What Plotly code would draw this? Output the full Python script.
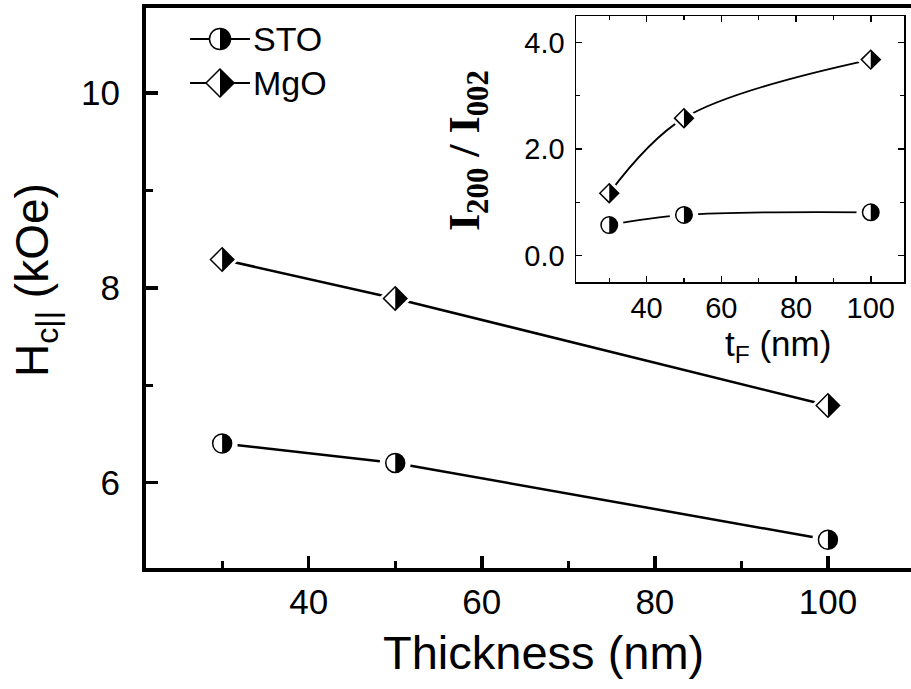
import plotly.graph_objects as go

W, H = 911, 689

# ---------------- data ----------------
thickness = [30, 50, 100]                 # nm
hc_sto = [6.40, 6.20, 5.41]               # kOe
hc_mgo = [8.29, 7.89, 6.79]               # kOe
ratio_sto = [0.57, 0.76, 0.81]            # I200/I002
ratio_mgo = [1.17, 2.58, 3.68]            # I200/I002
series_names = ["STO", "MgO"]

main_xticks = [40, 60, 80, 100]
main_yticks = [6, 8, 10]
inset_xticks = [40, 60, 80, 100]
inset_yticks = [0.0, 2.0, 4.0]

FONT = "Liberation Sans, Arial, sans-serif"
SERIF = "Liberation Serif, Times New Roman, serif"


def px_x(p):
    return p / W


def px_y(p):
    return 1 - p / H


def half_circle_path(r):
    k = 0.5523 * r
    return (f"M 0,{r} C {k:.3f},{r} {r},{k:.3f} {r},0 "
            f"C {r},{-k:.3f} {k:.3f},{-r} 0,{-r} Z")


def full_circle_path(r):
    k = 0.5523 * r
    return (f"M 0,{r} C {k:.3f},{r} {r},{k:.3f} {r},0 "
            f"C {r},{-k:.3f} {k:.3f},{-r} 0,{-r} "
            f"C {-k:.3f},{-r} {-r},{-k:.3f} {-r},0 "
            f"C {-r},{k:.3f} {-k:.3f},{r} 0,{r} Z")


def half_diamond_path(h):
    return f"M 0,{h} L {h},0 L 0,{-h} Z"


def full_diamond_path(h):
    return f"M 0,{h} L {h},0 L 0,{-h} L {-h},0 Z"


fig = go.Figure()
shapes = []

series = [
    (hc_sto, ratio_sto, "circle"),
    (hc_mgo, ratio_mgo, "diamond"),
]

main_size = {"circle": 19, "diamond": 18}
inset_size = {"circle": 16.5, "diamond": 14.5}
halo = {"circle": 12, "diamond": 8}

for name, (ys_main, ys_inset, sym) in zip(series_names, series):
    for xs, ys, xa, ya, sizes, lw, shape in [
        (thickness, ys_main, "x", "y", main_size, 2.5, "linear"),
        (thickness, ys_inset, "x2", "y2", inset_size, 1.8, "spline"),
    ]:
        fig.add_trace(go.Scatter(
            x=xs, y=ys, xaxis=xa, yaxis=ya, mode="lines",
            line=dict(color="black", width=lw, shape=shape, smoothing=1.0),
            showlegend=False, hoverinfo="skip"))
        fig.add_trace(go.Scatter(
            x=xs, y=ys, xaxis=xa, yaxis=ya, mode="markers",
            marker=dict(symbol=sym, size=sizes[sym] + halo[sym], color="white",
                        line=dict(width=0)),
            showlegend=False, hoverinfo="skip"))
        fig.add_trace(go.Scatter(
            x=xs, y=ys, xaxis=xa, yaxis=ya, mode="markers", name=name,
            marker=dict(symbol=sym, size=sizes[sym], color="white",
                        line=dict(color="black", width=1.5)),
            showlegend=False, hoverinfo="skip"))
        for xv, yv in zip(xs, ys):
            if sym == "circle":
                path = half_circle_path(sizes[sym] / 2)
            else:
                path = half_diamond_path(0.65 * sizes[sym])
            shapes.append(dict(
                type="path", xref=xa, yref=ya, xsizemode="pixel", ysizemode="pixel",
                xanchor=xv, yanchor=yv, path=path, fillcolor="black",
                line=dict(width=0), layer="above"))

# ---------------- manual legend ----------------
legend_rows = [(39, "circle"), (83, "diamond")]
for (ly, sym), name in zip(legend_rows, series_names):
    shapes.append(dict(type="line", xref="paper", yref="paper",
                       x0=px_x(190), x1=px_x(250), y0=px_y(ly), y1=px_y(ly),
                       line=dict(color="black", width=2), layer="above"))
    if sym == "circle":
        full, half = full_circle_path(10.5), half_circle_path(10.5)
    else:
        full, half = full_diamond_path(14), half_diamond_path(14)
    shapes.append(dict(type="path", xref="paper", yref="paper",
                       xsizemode="pixel", ysizemode="pixel",
                       xanchor=px_x(220), yanchor=px_y(ly), path=full,
                       fillcolor="white", line=dict(color="black", width=1.5),
                       layer="above"))
    shapes.append(dict(type="path", xref="paper", yref="paper",
                       xsizemode="pixel", ysizemode="pixel",
                       xanchor=px_x(220), yanchor=px_y(ly), path=half,
                       fillcolor="black", line=dict(width=0), layer="above"))

annotations = []
for (ly, sym), name in zip(legend_rows, series_names):
    annotations.append(dict(text=name, xref="paper", yref="paper",
                            x=px_x(251), y=px_y(ly), xanchor="left",
                            yanchor="middle", showarrow=False,
                            font=dict(family=FONT, size=34, color="black")))

# axis titles
annotations += [
    dict(text="H<sub>c||</sub> (kOe)", xref="paper", yref="paper",
         x=px_x(35), y=px_y(280), textangle=-90, showarrow=False,
         xanchor="center", yanchor="middle",
         font=dict(family=FONT, size=46, color="black")),
    dict(text="Thickness (nm)", xref="paper", yref="paper",
         x=px_x(543), y=px_y(652), showarrow=False,
         xanchor="center", yanchor="middle",
         font=dict(family=FONT, size=47, color="black")),
    dict(text="<b>I<sub>200</sub> / I<sub>002</sub></b>", xref="paper", yref="paper",
         x=px_x(467), y=px_y(151), textangle=-90, showarrow=False,
         xanchor="center", yanchor="middle",
         font=dict(family=SERIF, size=44, color="black")),
    dict(text="t<sub>F</sub> (nm)", xref="paper", yref="paper",
         x=px_x(778), y=px_y(346), showarrow=False,
         xanchor="center", yanchor="middle",
         font=dict(family=FONT, size=35, color="black")),
]

main_axis_common = dict(
    showline=True, linecolor="black", linewidth=4, showgrid=False,
    zeroline=False, ticks="inside", tickcolor="black", tickwidth=3.5,
    ticklen=12, tickfont=dict(family=FONT, size=35, color="black"),
)
inset_axis_common = dict(
    showline=True, linecolor="black", linewidth=1.5, mirror="ticks",
    showgrid=False, zeroline=False, ticks="inside", tickcolor="black",
    tickwidth=1.5, ticklen=6, tickfont=dict(family=FONT, size=29, color="black"),
)

fig.update_layout(
    width=W, height=H, autosize=False,
    margin=dict(l=0, r=0, t=0, b=0),
    paper_bgcolor="white", plot_bgcolor="white",
    hovermode=False,
    xaxis=dict(domain=[px_x(146), 1.0], range=[21.2, 109.6], anchor="y",
               tickmode="array", tickvals=main_xticks, mirror=True,
               minor=dict(ticks="inside", dtick=10, tick0=0, ticklen=7,
                          tickwidth=3, tickcolor="black"),
               **main_axis_common),
    yaxis=dict(domain=[px_y(568), px_y(7.5)], range=[5.12, 10.88], anchor="x",
               tickmode="array", tickvals=main_yticks, ticklabelstandoff=15,
               minor=dict(ticks="inside", dtick=1, tick0=0, ticklen=7,
                          tickwidth=3, tickcolor="black"),
               **main_axis_common),
    xaxis2=dict(domain=[px_x(576), px_x(904)], range=[21.1, 108.9], anchor="y2",
                tickmode="array", tickvals=inset_xticks,
                minor=dict(ticks="inside", dtick=10, tick0=0, ticklen=4,
                           tickwidth=1.2, tickcolor="black"),
                **inset_axis_common),
    yaxis2=dict(domain=[px_y(282), px_y(16)], range=[-0.5, 4.5], anchor="x2",
                tickmode="array", tickvals=inset_yticks, tickformat=".1f",
                ticklabelstandoff=4,
                minor=dict(ticks="inside", dtick=1, tick0=0, ticklen=4,
                           tickwidth=1.2, tickcolor="black"),
                **inset_axis_common),
    shapes=shapes,
    annotations=annotations,
)

fig.write_html(
    "out.html",
    config={"displayModeBar": False, "staticPlot": True},
    post_script="document.body.style.margin='0';document.body.style.overflow='hidden';",
)
